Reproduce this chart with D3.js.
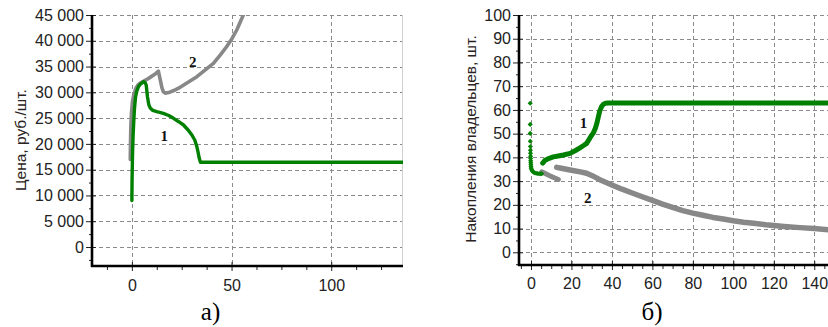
<!DOCTYPE html>
<html>
<head>
<meta charset="utf-8">
<script src="https://cdn.jsdelivr.net/npm/d3@7"></script>
<style>
  html, body { margin: 0; padding: 0; background: #fff; }
  svg { display: block; }
  .tick text { font-family: "Liberation Sans", Arial, sans-serif; font-size: 16px; fill: #222; }
</style>
</head>
<body>
<svg id="chart" width="828" height="327"></svg>
<script>
// ---- Panel а): price, rub/pc ----
const priceTicksY = [0, 5000, 10000, 15000, 20000, 25000, 30000, 35000, 40000, 45000];
const priceTicksX = [0, 50, 100];

// Curve 1 (green)
const priceT1 = [0, 0.1, 0.3, 0.6, 0.9, 1.3, 1.8, 2.5, 3.3, 4.3, 5.3, 5.9, 6.6, 7.2, 7.8, 8.5, 9.3, 10.5, 12.5, 15.8, 18.5, 20.9, 23.5, 25.9, 28.2, 30.1, 31.6, 32.6, 33.3, 33.8, 34.4, 36, 60, 100, 136];
const price1 = [9000, 13000, 17500, 21500, 24000, 26800, 29000, 30300, 31100, 31600, 31900, 32050, 31900, 31400, 29200, 27600, 26900, 26500, 26240, 25930, 25500, 24960, 24300, 23660, 22700, 21720, 20700, 19450, 18200, 17200, 16450, 16450, 16450, 16450, 16450];

// Curve 2 (gray)
const priceT2 = [-0.8, -0.7, -0.5, -0.2, 0.3, 1.0, 2.0, 3.2, 4.6, 6.0, 7.5, 9.5, 11.5, 13.3, 14.2, 15.0, 15.8, 16.7, 18.5, 21, 24.2, 28, 32.6, 37, 40.9, 44.5, 47.5, 50.2, 52.6, 55.9, 58.5];
const price2 = [17000, 20000, 23500, 26000, 28200, 29600, 30800, 31500, 31900, 32200, 32500, 33000, 33500, 34100, 32500, 31000, 30100, 29850, 29950, 30350, 30970, 31900, 33030, 34400, 35600, 37300, 38840, 40400, 42090, 45000, 47500];

// ---- Panel б): owners' savings, pcs ----
const savTicksY = [0, 10, 20, 30, 40, 50, 60, 70, 80, 90, 100];
const savTicksX = [0, 20, 40, 60, 80, 100, 120, 140];

// Curve 1 (green): initial scattered points, then continuous branch
const savT1a = [-0.4, -0.4, -0.4, -0.35, -0.3, -0.3, -0.25, -0.2, -0.2, -0.15, -0.1, -0.05, 0, 0.1, 0.3, 0.7, 1.2, 1.8, 2.5, 3.2, 4.0, 4.8, 5.3];
const sav1a = [62.8, 53.9, 50.1, 46.8, 44.6, 43.0, 41.7, 40.5, 39.5, 38.6, 37.7, 36.9, 36.1, 35.4, 34.8, 34.2, 33.8, 33.5, 33.3, 33.2, 33.1, 33.1, 33.1];
const savT1b = [5.8, 7, 9, 11, 13.5, 16, 19.3, 22, 24.2, 26, 27.5, 29.2, 30.8, 31.8, 32.6, 33.3, 34.0, 34.9, 35.8, 36.8, 38, 60, 100, 147];
const sav1b = [37.6, 38.8, 39.6, 40.2, 40.6, 41.0, 41.7, 42.9, 44.0, 45.0, 45.9, 48.3, 50.3, 52.3, 54.5, 57.1, 59.6, 61.4, 62.4, 62.8, 62.9, 62.9, 62.9, 62.9];

// Curve 2 (gray): short first branch and long decaying branch
const savT2a = [5.3, 7.5, 9.5, 11.5, 13.5];
const sav2a = [33.9, 33.0, 32.2, 31.4, 30.7];
const savT2b = [12.7, 15, 20, 25, 27.5, 30, 34, 40, 45, 50, 55, 60, 65, 70, 75, 80, 85, 90, 95, 100, 105, 110, 116, 120, 125, 133, 140, 147];
const sav2b = [35.8, 35.4, 34.6, 33.8, 33.3, 32.4, 30.6, 28.4, 26.6, 25.0, 23.4, 21.9, 20.3, 18.9, 17.6, 16.5, 15.6, 14.7, 14.0, 13.3, 12.7, 12.2, 11.6, 11.3, 10.9, 10.4, 10.0, 9.5];

const GREEN = "#008000";
const GRAY = "#888888";

const svg = d3.select("#chart");
svg.append("rect").attr("width", 828).attr("height", 327).attr("fill", "#fff");

const spaceFmt = d3.formatLocale({ decimal: ",", thousands: " ", grouping: [3], currency: ["", ""] }).format(",");

function minorValues(majors, steps) {
  const out = [];
  const d = (majors[1] - majors[0]) / steps;
  const lo = majors[0] - d * steps, hi = majors[majors.length - 1] + d * steps;
  for (let v = lo; v <= hi + 1e-9; v += d) {
    if (!majors.some(m => Math.abs(m - v) < 1e-9)) out.push(v);
  }
  return out;
}

function panel(cfg) {
  const { x, y, id } = cfg;
  const [x0, x1] = x.range();
  const [y1, y0] = y.range(); // y1 bottom, y0 top
  const g = svg.append("g");

  g.append("clipPath").attr("id", id).append("rect")
    .attr("x", x0).attr("y", y0).attr("width", x1 - x0).attr("height", y1 - y0);

  // dashed grid
  const grid = g.append("g").attr("stroke", "#8a8a8a").attr("stroke-width", 1).attr("stroke-dasharray", "4,3");
  grid.selectAll("line.h").data(cfg.ticksY).join("line")
    .attr("x1", x0).attr("x2", x1)
    .attr("y1", d => Math.round(y(d)) + 0.5).attr("y2", d => Math.round(y(d)) + 0.5);
  grid.selectAll("line.v").data(cfg.ticksX).join("line")
    .attr("y1", y0).attr("y2", y1)
    .attr("x1", d => Math.round(x(d)) + 0.5).attr("x2", d => Math.round(x(d)) + 0.5);

  if (cfg.rightEdge) {
    g.append("line").attr("x1", x1 - 0.5).attr("x2", x1 - 0.5).attr("y1", y0).attr("y2", y1)
      .attr("stroke", "#d0d0d0").attr("stroke-width", 1);
  }

  // series
  const plot = g.append("g").attr("clip-path", `url(#${id})`);
  const line = d3.line().x(d => x(d[0])).y(d => y(d[1]));
  cfg.series.forEach(s => {
    if (s.markers) {
      plot.append("g").selectAll("path").data(d3.zip(s.t, s.v)).join("path")
        .attr("d", d3.symbol(d3.symbolSquare, 13)())
        .attr("transform", d => `translate(${x(d[0])},${y(d[1])}) rotate(45)`)
        .attr("fill", s.color);
    } else {
      plot.append("path").datum(d3.zip(s.t, s.v))
        .attr("d", line).attr("fill", "none").attr("stroke", s.color)
        .attr("stroke-width", s.width).attr("stroke-linejoin", "round").attr("stroke-linecap", "round");
    }
  });

  // axes: labels + outer major ticks
  const ay = g.append("g").attr("transform", `translate(${x0},0)`)
    .call(d3.axisLeft(y).tickValues(cfg.ticksY).tickSizeInner(6).tickSizeOuter(0).tickPadding(2).tickFormat(cfg.fmtY));
  const ax = g.append("g").attr("transform", `translate(0,${y1})`)
    .call(d3.axisBottom(x).tickValues(cfg.ticksX).tickSizeInner(5).tickSizeOuter(0).tickPadding(cfg.xPad).tickFormat(d3.format("d")));
  // inner stubs of major ticks
  const ay2 = g.append("g").attr("transform", `translate(${x0},0)`)
    .call(d3.axisRight(y).tickValues(cfg.ticksY).tickSize(4).tickFormat(""));
  const ax2 = g.append("g").attr("transform", `translate(0,${y1})`)
    .call(d3.axisTop(x).tickValues(cfg.ticksX).tickSize(4).tickFormat(""));
  // minor ticks
  const my = g.append("g").attr("transform", `translate(${x0},0)`)
    .call(d3.axisLeft(y).tickValues(minorValues(cfg.ticksY, 2).filter(v => y(v) >= y0 && y(v) <= y1)).tickSize(3).tickFormat(""));
  const mx = g.append("g").attr("transform", `translate(0,${y1})`)
    .call(d3.axisBottom(x).tickValues(minorValues(cfg.ticksX, cfg.minorX).filter(v => x(v) >= x0 && x(v) <= x1)).tickSize(4).tickFormat(""));

  [ay, ax, ay2, ax2, my, mx].forEach(a => {
    a.select(".domain").remove();
    a.selectAll(".tick line").attr("stroke", "#222").attr("stroke-width", 1);
  });

  // solid axis lines
  g.append("line").attr("x1", x0).attr("x2", x0).attr("y1", y0).attr("y2", y1 + 1)
    .attr("stroke", "#000").attr("stroke-width", 2.6);
  g.append("line").attr("x1", x0 - 1).attr("x2", x1).attr("y1", y1).attr("y2", y1)
    .attr("stroke", "#000").attr("stroke-width", 2.6);

  // axis title
  g.append("text")
    .attr("transform", `translate(${cfg.titlePos[0]},${cfg.titlePos[1]}) rotate(-90)`)
    .attr("text-anchor", "middle").attr("dominant-baseline", "central")
    .attr("font-family", "'Liberation Sans', Arial, sans-serif").attr("font-size", 15.5).attr("fill", "#2a2220")
    .text(cfg.title);

  // curve numbers
  cfg.labels.forEach(l => {
    g.append("text").attr("x", l.x).attr("y", l.y)
      .attr("text-anchor", "middle").attr("dominant-baseline", "central")
      .attr("font-family", "'Liberation Serif', 'Times New Roman', serif").attr("font-weight", "bold")
      .attr("font-size", 15).attr("fill", "#111").text(l.text);
  });

  // panel caption
  svg.append("text").attr("x", cfg.caption[0]).attr("y", 320)
    .attr("text-anchor", "middle")
    .attr("font-family", "'Liberation Serif', 'Times New Roman', serif").attr("font-size", 25).attr("fill", "#000")
    .text(cfg.caption[1]);
}

// Panel а)
const xA = d3.scaleLinear().domain([-20, 136]).range([92, 403]);
const yA = d3.scaleLinear().domain([-3685, 45000]).range([266, 15]);
panel({
  id: "clipA", x: xA, y: yA,
  ticksY: priceTicksY, ticksX: priceTicksX, minorX: 4, xPad: 9,
  fmtY: spaceFmt, rightEdge: true,
  series: [
    { t: priceT2, v: price2, color: GRAY, width: 3.6 },
    { t: priceT1, v: price1, color: GREEN, width: 3.4 }
  ],
  title: "Цена, руб./шт.", titlePos: [20, 140],
  labels: [{ x: xA(30.5), y: yA(35850), text: "2" }, { x: xA(16.3), y: yA(21550), text: "1" }],
  caption: [210.5, "а)"]
});

// Panel б)
const xB = d3.scaleLinear().domain([-5.93, 146.8]).range([519, 828]);
const yB = d3.scaleLinear().domain([-5.35, 100]).range([265, 15]);
panel({
  id: "clipB", x: xB, y: yB,
  ticksY: savTicksY, ticksX: savTicksX, minorX: 4, xPad: 8,
  fmtY: d3.format("d"), rightEdge: false,
  series: [
    { t: savT2a, v: sav2a, color: GRAY, width: 5 },
    { t: savT2b, v: sav2b, color: GRAY, width: 5.5 },
    { t: savT1a, v: sav1a, color: GREEN, markers: true },
    { t: savT1b, v: sav1b, color: GREEN, width: 5 }
  ],
  title: "Накопления владельцев, шт.", titlePos: [470, 139],
  labels: [{ x: xB(25.9), y: yB(54.3), text: "1" }, { x: xB(28.1), y: yB(22.7), text: "2" }],
  caption: [652, "б)"]
});
</script>
</body>
</html>
